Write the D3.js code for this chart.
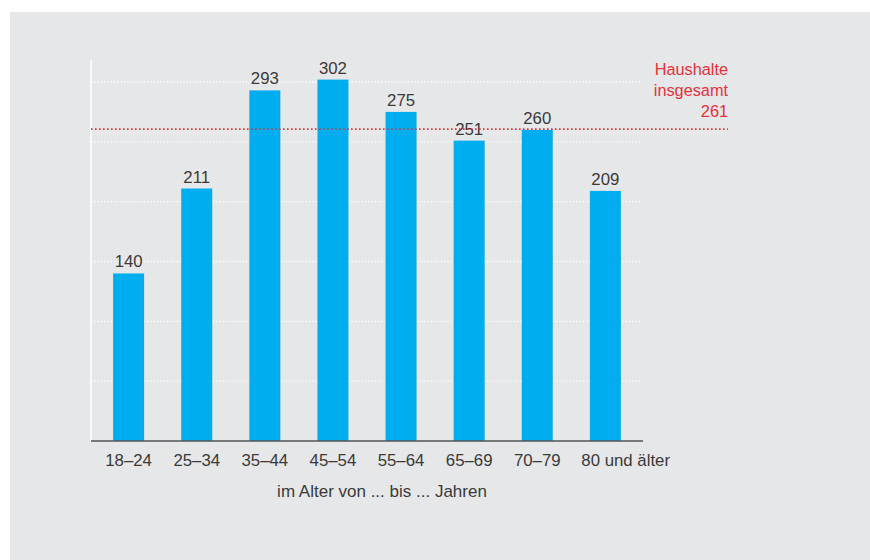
<!DOCTYPE html>
<html>
<head>
<meta charset="utf-8">
<script src="https://cdn.jsdelivr.net/npm/d3@7"></script>
<style>
  body { margin: 0; background: #fff; }
  svg { display: block; font-family: "Liberation Sans", Arial, sans-serif; }
</style>
</head>
<body>
<div id="chart"></div>
<script>
// Daten: Haushalte nach Alter
const categories = ["18–24", "25–34", "35–44", "45–54", "55–64", "65–69", "70–79", "80 und älter"];
const values = [140, 211, 293, 302, 275, 251, 260, 209];
const gridTicks = [50, 100, 150, 200, 250, 300];
const totalValue = 261;
const totalLabel = ["Haushalte", "insgesamt", "261"];
const axisTitle = "im Alter von ... bis ... Jahren";

const width = 870, height = 560;
const svg = d3.select("#chart").append("svg")
    .attr("width", width)
    .attr("height", height);

// grauer Hintergrund
svg.append("rect")
    .attr("x", 10).attr("y", 12)
    .attr("width", width - 10).attr("height", height - 12)
    .attr("fill", "#e6e7e9");

const left = 91, right = 643, base = 441;

const x = d3.scaleBand()
    .domain(categories)
    .range([left, right])
    .paddingInner(0.545)
    .paddingOuter(0.325);

const y = d3.scaleLinear()
    .domain([0, 300])
    .range([base, base - 359]);

// Gitterlinien (weiß gepunktet)
svg.selectAll("line.grid")
    .data(gridTicks)
    .enter().append("line")
    .attr("class", "grid")
    .attr("x1", left).attr("x2", 641)
    .attr("y1", d => y(d)).attr("y2", d => y(d))
    .attr("stroke", "#fff")
    .attr("stroke-width", 1.3)
    .attr("stroke-dasharray", "1.2,2.1");

// vertikale Achse
svg.append("line")
    .attr("x1", left).attr("x2", left)
    .attr("y1", 60).attr("y2", base)
    .attr("stroke", "#fff")
    .attr("stroke-width", 1.5);

// Balken
svg.selectAll("rect.bar")
    .data(values)
    .enter().append("rect")
    .attr("class", "bar")
    .attr("x", (d, i) => x(categories[i]))
    .attr("y", d => y(d))
    .attr("width", x.bandwidth())
    .attr("height", d => base - y(d))
    .attr("fill", "#00adef");

// Werte über den Balken
svg.selectAll("text.val")
    .data(values)
    .enter().append("text")
    .attr("class", "val")
    .attr("x", (d, i) => x(categories[i]) + x.bandwidth() / 2)
    .attr("y", d => y(d) - 6)
    .attr("text-anchor", "middle")
    .attr("font-size", 16.8)
    .attr("fill", "#3a3a3a")
    .text(d => d);

// Linie "Haushalte insgesamt"
svg.append("line")
    .attr("x1", left).attr("x2", 728)
    .attr("y1", y(totalValue) + 0.5).attr("y2", y(totalValue) + 0.5)
    .attr("stroke", "#e8303a")
    .attr("stroke-width", 1.6)
    .attr("stroke-dasharray", "1.6,2.4");

svg.selectAll("text.total")
    .data(totalLabel)
    .enter().append("text")
    .attr("class", "total")
    .attr("x", 728)
    .attr("y", (d, i) => 75 + i * 21)
    .attr("text-anchor", "end")
    .attr("font-size", 16.3)
    .attr("fill", "#e8303a")
    .text(d => d);

// Grundlinie
svg.append("line")
    .attr("x1", left).attr("x2", right)
    .attr("y1", base).attr("y2", base)
    .attr("stroke", "#555")
    .attr("stroke-width", 1.5);

// Kategorien
svg.selectAll("text.cat")
    .data(categories)
    .enter().append("text")
    .attr("class", "cat")
    .attr("x", (d, i) => i === categories.length - 1
        ? x(d) + x.bandwidth() / 2 - 24
        : x(d) + x.bandwidth() / 2)
    .attr("y", 466)
    .attr("text-anchor", (d, i) => i === categories.length - 1 ? "start" : "middle")
    .attr("font-size", 16.8)
    .attr("fill", "#3a3a3a")
    .text(d => d);

// Achsentitel
svg.append("text")
    .attr("x", 382)
    .attr("y", 497)
    .attr("text-anchor", "middle")
    .attr("font-size", 17)
    .attr("fill", "#3a3a3a")
    .text(axisTitle);
</script>
</body>
</html>
